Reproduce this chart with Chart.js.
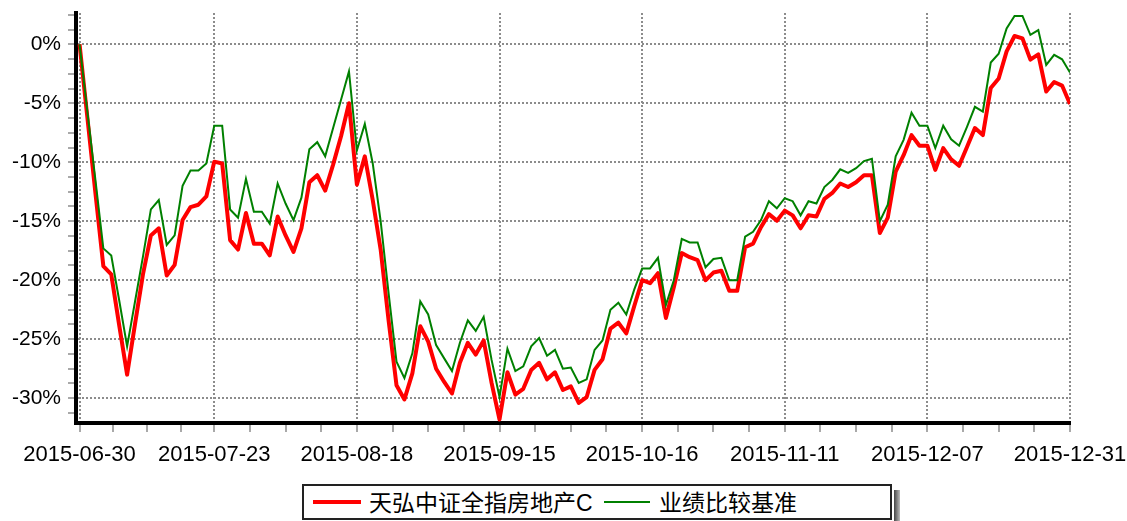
<!DOCTYPE html>
<html>
<head>
<meta charset="utf-8">
<script src="https://cdn.jsdelivr.net/npm/chart.js@4/dist/chart.umd.min.js"></script>
<style>
    html, body { margin: 0; padding: 0; background: #fff; }
    #wrap { position: relative; width: 1127px; height: 521px; overflow: hidden; }
    #chart { position: absolute; left: 0; top: 0; }
    .lg-box {
        position: absolute; left: 302px; top: 484px; width: 586px; height: 32px;
        border: 2px solid #222; background: #fff;
    }
    .lg-shadow {
        position: absolute; left: 894px; top: 490px; width: 6px; height: 40px;
        background: linear-gradient(to right, #444, #bbb);
    }
    .lg-line { position: absolute; top: 16px; height: 4px; margin-top: -2px; }
    .lg-text {
        position: absolute; top: 0; line-height: 34px; white-space: nowrap;
        font-family: "Liberation Sans", Arial, "Noto Sans CJK SC", sans-serif;
        font-size: 23px; color: #000;
    }
</style>
</head>
<body>
<div id="wrap">
    <canvas id="chart" width="1127" height="521"></canvas>
    <div class="lg-shadow"></div>
    <div class="lg-box" id="legend"></div>
</div>
<script>
    // trading days 2015-06-30 .. 2015-12-31 (A-share calendar)
    const startDay = '2015-06-30';
    const endDay = '2015-12-31';
    const holidays = ['2015-09-03', '2015-09-04', '2015-10-01', '2015-10-02', '2015-10-05', '2015-10-06', '2015-10-07'];

    const tickLabels = ['2015-06-30', '2015-07-23', '2015-08-18', '2015-09-15', '2015-10-16', '2015-11-11', '2015-12-07', '2015-12-31'];
    const yTickValues = [0, -5, -10, -15, -20, -25, -30];

    const seriesNames = ['天弘中证全指房地产C', '业绩比较基准'];
    const seriesColors = ['#ff0000', '#008000'];

    // 天弘中证全指房地产C, cumulative return %
    const fundValues = [
        0, -6.3, -12.6, -18.8, -19.5, -23.8, -28.0, -23.7, -19.5, -16.2,
        -15.6, -19.6, -18.7, -14.9, -13.8, -13.6, -12.9, -9.95, -10.1, -16.6,
        -17.4, -14.3, -16.9, -16.9, -17.9, -14.6, -16.2, -17.6, -15.6, -11.7,
        -11.1, -12.4, -10.2, -7.8, -5.0, -11.9, -9.5, -13.2, -17.4, -23.4,
        -28.9, -30.1, -27.9, -23.9, -25.2, -27.5, -28.6, -29.6, -27.0, -25.3,
        -26.3, -25.1, -28.7, -31.8, -27.8, -29.7, -29.2, -27.6, -27.0, -28.4,
        -27.8, -29.3, -29.0, -30.4, -29.9, -27.6, -26.7, -24.1, -23.6, -24.5,
        -22.2, -20.0, -20.25, -19.4, -23.2, -20.6, -17.7, -18.05, -18.3, -20.0,
        -19.35, -19.2, -20.9, -20.9, -17.2, -16.9, -15.5, -14.4, -14.95, -14.1,
        -14.5, -15.6, -14.5, -14.6, -13.1, -12.6, -11.8, -12.1, -11.7, -11.1,
        -11.1, -16.0, -14.7, -10.8, -9.4, -7.7, -8.6, -8.6, -10.65, -8.8,
        -9.75, -10.3, -8.7, -7.1, -7.7, -3.7, -2.9, -0.6, 0.7, 0.5,
        -1.3, -0.85, -4.0, -3.2, -3.5, -5.06
    ];

    // 业绩比较基准, cumulative return %
    const benchValues = [
        0, -5.8, -11.5, -17.3, -17.9, -21.7, -25.6, -21.8, -18.0, -14.0,
        -13.2, -17.0, -16.2, -12.0, -10.7, -10.7, -10.1, -6.9, -6.9, -14.0,
        -14.7, -11.4, -14.2, -14.2, -15.2, -11.8, -13.5, -14.9, -13.0, -8.9,
        -8.3, -9.5, -7.1, -4.7, -2.3, -9.0, -6.75, -10.1, -15.0, -21.1,
        -26.9, -28.3, -26.2, -21.8, -22.9, -25.5, -26.6, -27.7, -25.3, -23.4,
        -24.3, -23.1, -26.75, -29.9, -25.8, -27.7, -27.3, -25.6, -24.9, -26.4,
        -25.9, -27.5, -27.4, -28.7, -28.4, -25.9, -25.1, -22.5, -21.9, -22.9,
        -20.8, -19.0, -19.0, -18.1, -22.1, -20.0, -16.5, -16.8, -16.8, -18.9,
        -18.2, -18.1, -20.0, -20.0, -16.3, -15.9, -14.9, -13.3, -13.9, -13.05,
        -13.3, -14.5, -13.3, -13.5, -12.1, -11.5, -10.6, -10.9, -10.5, -9.9,
        -9.7, -15.0, -13.6, -9.5, -8.1, -5.8, -6.9, -6.9, -8.8, -6.9,
        -8.05, -8.6, -7.0, -5.3, -5.7, -1.55, -0.8, 1.35, 2.4, 2.4,
        0.8, 1.2, -1.75, -0.9, -1.27, -2.4
    ];

    function tradingDays(from, to, skip) {
        const out = [];
        const d = new Date(from + 'T00:00:00Z');
        const end = new Date(to + 'T00:00:00Z');
        while (d <= end) {
            const s = d.toISOString().substring(0, 10);
            const wd = d.getUTCDay();
            if (wd !== 0 && wd !== 6 && skip.indexOf(s) < 0) out.push(s);
            d.setUTCDate(d.getUTCDate() + 1);
        }
        return out;
    }

    const dates = tradingDays(startDay, endDay, holidays);
    const majorIdx = tickLabels.map(t => dates.indexOf(t));

    // x ticks: labelled dates plus 3 minor ticks in between
    const xTicks = [];
    majorIdx.forEach((v, i) => {
        xTicks.push({ value: v, major: true });
        const next = majorIdx[i + 1];
        if (next !== undefined) {
            for (let k = 1; k < 4; k++) xTicks.push({ value: v + (next - v) * k / 4, major: false });
        }
    });

    // y ticks: every 1.25 %, labelled every 5 %
    const yTicks = [];
    for (let k = -25; k <= 2; k++) {
        const v = k * 1.25;
        yTicks.push({ value: v, major: yTickValues.indexOf(v) >= 0 });
    }

    const toPoints = arr => arr.map((v, i) => ({ x: i, y: v }));
    const isMajorX = v => majorIdx.indexOf(v) >= 0;
    const isMajorY = v => yTickValues.indexOf(v) >= 0;
    const GRID = '#8c8c8c';

    const chart = new Chart(document.getElementById('chart'), {
        type: 'line',
        data: {
            datasets: [
                {
                    label: seriesNames[0],
                    data: toPoints(fundValues),
                    borderColor: seriesColors[0],
                    borderWidth: 4,
                    pointRadius: 0,
                    tension: 0,
                    borderJoinStyle: 'round',
                    order: 1
                },
                {
                    label: seriesNames[1],
                    data: toPoints(benchValues),
                    borderColor: seriesColors[1],
                    borderWidth: 2,
                    pointRadius: 0,
                    tension: 0,
                    order: 0
                }
            ]
        },
        options: {
            responsive: false,
            animation: false,
            devicePixelRatio: 1,
            layout: { padding: { left: 0, top: 13, right: 57, bottom: 0 } },
            plugins: { legend: { display: false }, tooltip: { enabled: false } },
            scales: {
                x: {
                    type: 'linear',
                    min: -0.45,
                    max: dates.length - 1,
                    afterBuildTicks: s => { s.ticks = xTicks.map(t => ({ value: t.value, major: t.major })); },
                    afterFit: s => { s.height = 98; s.paddingLeft = 0; s.paddingRight = 0; },
                    ticks: {
                        autoSkip: false, maxRotation: 0, minRotation: 0, padding: 10,
                        color: '#000',
                        font: { family: '"Liberation Sans", Arial, sans-serif', size: 22 },
                        callback: v => isMajorX(v) ? dates[v] : ''
                    },
                    grid: {
                        color: c => (c.tick && isMajorX(c.tick.value)) ? GRID : 'rgba(0,0,0,0)',
                        lineWidth: 2, tickColor: GRID, tickLength: 9, tickWidth: 1.5
                    },
                    border: { display: true, color: '#000', width: 4, dash: [2, 2] }
                },
                y: {
                    min: -32.1,
                    max: 2.65,
                    afterBuildTicks: s => { s.ticks = yTicks.map(t => ({ value: t.value, major: t.major })); },
                    afterFit: s => { s.width = 76; s.paddingTop = 0; s.paddingBottom = 0; },
                    ticks: {
                        autoSkip: false, padding: 7,
                        color: '#000',
                        font: { family: '"Liberation Sans", Arial, sans-serif', size: 21 },
                        callback: v => isMajorY(v) ? v + '%' : ''
                    },
                    grid: {
                        color: c => (c.tick && isMajorY(c.tick.value)) ? GRID : 'rgba(0,0,0,0)',
                        lineWidth: 2, tickColor: GRID, tickLength: 8, tickWidth: 1.5
                    },
                    border: { display: true, color: '#000', width: 4, dash: [2, 2] }
                }
            }
        }
    });

    // legend drawn in html, like the original framed key
    const legendEl = document.getElementById('legend');
    const lgPos = [{ line: 9, w: 48, text: 65, lw: 4 }, { line: 300, w: 46, text: 355, lw: 2 }];
    chart.data.datasets.forEach((ds, i) => {
        const p = lgPos[i];
        legendEl.innerHTML += `<div class="lg-line" style="left:${p.line}px;width:${p.w}px;height:${p.lw}px;margin-top:-${p.lw / 2}px;background:${ds.borderColor}"></div>` +
            `<div class="lg-text" style="left:${p.text}px">${ds.label}</div>`;
    });
</script>
</body>
</html>
